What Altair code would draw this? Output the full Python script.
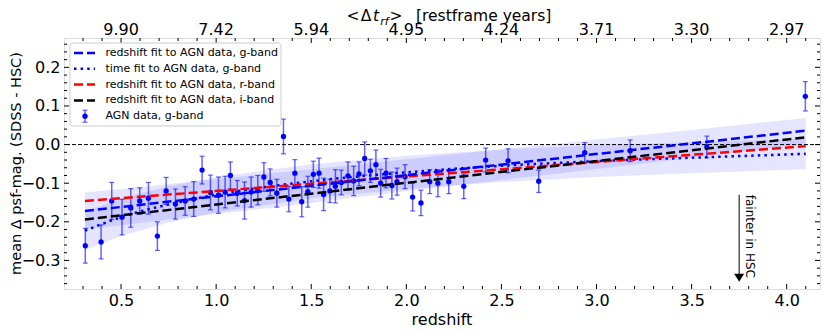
import altair as alt
import pandas as pd

# ---------------- data ----------------
redshift = [0.312, 0.395, 0.451, 0.505, 0.551, 0.598, 0.644, 0.691, 0.737, 0.786,
            0.837, 0.882, 0.926, 0.970, 1.012, 1.047, 1.075, 1.111, 1.149, 1.184,
            1.219, 1.251, 1.284, 1.319, 1.354, 1.382, 1.414, 1.450, 1.482, 1.511,
            1.541, 1.565, 1.598, 1.627, 1.658, 1.693, 1.723, 1.751, 1.781, 1.811,
            1.840, 1.865, 1.893, 1.924, 1.951, 1.993, 2.033, 2.077, 2.123, 2.166,
            2.223, 2.302, 2.417, 2.535, 2.696, 2.938, 3.177, 3.580, 4.098]
mean_dmag = [-0.262, -0.252, -0.146, -0.188, -0.164, -0.146, -0.139, -0.237, -0.120, -0.154,
             -0.146, -0.141, -0.066, -0.124, -0.131, -0.123, -0.080, -0.126, -0.145, -0.123,
             -0.118, -0.084, -0.098, -0.126, 0.021, -0.141, -0.074, -0.148, -0.122, -0.077,
             -0.074, -0.129, -0.120, -0.108, -0.098, -0.081, -0.094, -0.076, -0.036, -0.068,
             -0.052, -0.100, -0.074, -0.106, -0.096, -0.083, -0.136, -0.151, -0.096, -0.100,
             -0.096, -0.108, -0.040, -0.042, -0.095, -0.021, -0.016, -0.006, 0.125]
dmag_err = [0.045, 0.044, 0.048, 0.046, 0.050, 0.034, 0.041, 0.037, 0.035, 0.039,
            0.037, 0.045, 0.036, 0.045, 0.047, 0.041, 0.035, 0.033, 0.048, 0.039,
            0.038, 0.037, 0.035, 0.036, 0.045, 0.033, 0.035, 0.039, 0.040, 0.034,
            0.039, 0.042, 0.030, 0.043, 0.032, 0.036, 0.038, 0.031, 0.043, 0.030,
            0.038, 0.036, 0.038, 0.035, 0.035, 0.031, 0.036, 0.033, 0.031, 0.035,
            0.031, 0.032, 0.031, 0.031, 0.029, 0.026, 0.028, 0.028, 0.038]

# straight redshift fits (end points)
fit_z = [0.31, 4.10]
fit_g = [-0.172, 0.036]
fit_r = [-0.146, -0.004]
fit_i = [-0.194, 0.019]

# time fit (g band) and uncertainty bands, read at these redshifts
curve_z = [0.31, 0.5, 0.75, 1.0, 1.5, 2.0, 2.5, 3.0, 3.5, 4.1]
time_g = [-0.223, -0.188, -0.155, -0.130, -0.095, -0.072, -0.055, -0.043, -0.034, -0.024]
bandA_hi = [-0.124, -0.115, -0.102, -0.089, -0.064, -0.038, -0.012, 0.013, 0.038, 0.069]
bandA_lo = [-0.220, -0.209, -0.194, -0.180, -0.151, -0.121, -0.092, -0.063, -0.034, 0.002]
bandB_hi = [-0.174, -0.139, -0.108, -0.084, -0.051, -0.029, -0.013, -0.002, 0.007, 0.015]
bandB_lo = [-0.273, -0.237, -0.202, -0.176, -0.139, -0.115, -0.097, -0.084, -0.074, -0.064]

# axes
x_major = [0.5, 1.0, 1.5, 2.0, 2.5, 3.0, 3.5, 4.0]
top_labels = ["9.90", "7.42", "5.94", "4.95", "4.24", "3.71", "3.30", "2.97"]
y_major = [-0.3, -0.2, -0.1, 0.0, 0.1, 0.2]
x_minor = [round(0.3 + 0.1 * k, 1) for k in range(39)]
x_minor = [v for v in x_minor if abs(v * 2 - round(v * 2)) > 1e-6]
y_minor = [round(-0.36 + 0.02 * k, 2) for k in range(32)]
y_minor = [v for v in y_minor if abs(round(v * 10) - v * 10) > 1e-6]

legend_labels = ["redshift fit to AGN data, g-band", "time fit to AGN data, g-band",
                 "redshift fit to AGN data, r-band", "redshift fit to AGN data, i-band",
                 "AGN data, g-band"]

# annotation
arrow_z = [3.75]
arrow_top = [-0.130]
arrow_end = [-0.337]
arrow_head = [-0.345]
note_z = [3.807]
note_text = ["fainter in HSC"]

# ---------------- chart ----------------
W, H = 756, 251
BLUE, RED, BLACK = "#0000ff", "#ff0000", "#000000"
FONT = "DejaVu Sans"

xs = alt.Scale(domain=[0.2, 4.175], nice=False, zero=False)
ys = alt.Scale(domain=[-0.374, 0.276], nice=False, zero=False)
xaxis = alt.Axis(values=x_major, format=".1f", ticks=False, domain=False, grid=False,
                 labelFontSize=16, labelPadding=3, labelColor="black", title=None,
                 labelFont=FONT)
yaxis = alt.Axis(values=y_major, format=".1f", ticks=False, domain=False, grid=False,
                 labelFontSize=16, labelPadding=4, labelColor="black", title=None,
                 labelFont=FONT)


def X(f):
    return alt.X(f, type="quantitative", scale=xs, axis=xaxis)


def Y(f):
    return alt.Y(f, type="quantitative", scale=ys, axis=yaxis)


pts = pd.DataFrame({"z": redshift, "m": mean_dmag, "e": dmag_err})
pts["lo"] = pts["m"] - pts["e"]
pts["hi"] = pts["m"] + pts["e"]

band = pd.DataFrame({"z": curve_z, "ahi": bandA_hi, "alo": bandA_lo,
                     "bhi": bandB_hi, "blo": bandB_lo, "t": time_g})
fits = pd.DataFrame({"z": fit_z, "g": fit_g, "r": fit_r, "i": fit_i})

layers = []
layers.append(alt.Chart(band).mark_area(color=BLUE, opacity=0.1).encode(
    x=X("z"), y=Y("ahi"), y2="alo"))
layers.append(alt.Chart(band).mark_area(color=BLUE, opacity=0.1).encode(
    x=X("z"), y=Y("bhi"), y2="blo"))
layers.append(alt.Chart(pd.DataFrame({"y": [0.0]})).mark_rule(
    color="black", strokeWidth=1, strokeDash=[4, 2]).encode(y=Y("y")))

# error bars + points
layers.append(alt.Chart(pts).mark_rule(color=BLUE, opacity=0.6, strokeWidth=1.5).encode(
    x=X("z"), y=Y("lo"), y2="hi"))
for f in ["lo", "hi"]:
    layers.append(alt.Chart(pts).mark_tick(color=BLUE, opacity=0.6, orient="horizontal",
                                           size=5, thickness=1.2).encode(x=X("z"), y=Y(f)))
layers.append(alt.Chart(pts).mark_circle(color=BLUE, opacity=1, size=28).encode(
    x=X("z"), y=Y("m")))

# fits
layers.append(alt.Chart(band).mark_line(color=BLUE, strokeWidth=2.5, strokeDash=[2.5, 4.1],
                                        interpolate="monotone").encode(x=X("z"), y=Y("t")))
for col, c in [("r", RED), ("i", BLACK), ("g", BLUE)]:
    layers.append(alt.Chart(fits).mark_line(color=c, strokeWidth=2.5, strokeDash=[9, 4]).encode(
        x=X("z"), y=Y(col)))


# inward ticks
def xticks(vals, L):
    df = pd.DataFrame({"v": vals})
    bot = alt.Chart(df).mark_rule(color="black", strokeWidth=1).encode(
        x=X("v"), y=alt.value(H), y2=alt.value(H - L))
    top = alt.Chart(df).mark_rule(color="black", strokeWidth=1).encode(
        x=X("v"), y=alt.value(0), y2=alt.value(L))
    return [bot, top]


def yticks(vals, L):
    df = pd.DataFrame({"v": vals})
    left = alt.Chart(df).mark_rule(color="black", strokeWidth=1).encode(
        y=Y("v"), x=alt.value(0), x2=alt.value(L))
    right = alt.Chart(df).mark_rule(color="black", strokeWidth=1).encode(
        y=Y("v"), x=alt.value(W), x2=alt.value(W - L))
    return [left, right]


layers += xticks(x_major, 5) + xticks(x_minor, 3) + yticks(y_major, 5) + yticks(y_minor, 3)

# top axis labels
top_df = pd.DataFrame({"z": x_major, "lab": top_labels})
layers.append(alt.Chart(top_df).mark_text(fontSize=16, font=FONT, baseline="alphabetic",
                                          align="center", color="black").encode(
    x=X("z"), y=alt.value(-3.5), text="lab"))

one = pd.DataFrame({"a": [0]})


def txt(s, x, y, size=16, style="normal", align="left", angle=0, baseline="alphabetic"):
    return alt.Chart(one).mark_text(text=s, fontSize=size, font=FONT, fontStyle=style,
                                    align=align, baseline=baseline, angle=angle,
                                    color="black").encode(x=alt.value(x), y=alt.value(y))


# top title  < Δt_rf > [restframe years]
TB = -17
TS = 15.5
layers += [txt("<", 289, TB, size=TS, align="center"), txt("Δ", 302, TB, size=TS, align="center"),
           txt("t", 312, TB, size=TS, style="italic", align="center"),
           txt("rf", 320.5, TB + 4, size=11, style="italic", align="center"),
           txt(">", 332, TB, size=TS, align="center"),
           txt("[restframe years]", 352, TB, size=TS)]
# axis titles
layers.append(txt("redshift", W / 2, H + 36, align="center"))
layers.append(txt("mean Δ psf-mag. (SDSS - HSC)", -47.5, H / 2, size=14.5, align="center",
                  angle=270, baseline="middle"))

# legend
layers.append(alt.Chart(one).mark_rect(fill="white", fillOpacity=0.8, stroke="#cccccc",
                                       strokeWidth=1, cornerRadius=3).encode(
    x=alt.value(6), x2=alt.value(217), y=alt.value(5), y2=alt.value(88)))
styles = [(BLUE, [9, 4]), (BLUE, [2.5, 4.1]), (RED, [9, 4]), (BLACK, [9, 4])]
for k, lab in enumerate(legend_labels):
    ry = 15 + 15.8 * k
    if k < 4:
        c, d = styles[k]
        layers.append(alt.Chart(one).mark_rule(color=c, strokeWidth=2.5, strokeDash=d).encode(
            x=alt.value(10), x2=alt.value(31), y=alt.value(ry)))
    else:
        layers.append(alt.Chart(one).mark_rule(color=BLUE, opacity=0.6, strokeWidth=1.5).encode(
            x=alt.value(21), y=alt.value(ry - 6), y2=alt.value(ry + 6)))
        for dy in (-6, 6):
            layers.append(alt.Chart(one).mark_rule(color=BLUE, opacity=0.6, strokeWidth=1.2).encode(
                x=alt.value(18.5), x2=alt.value(23.5), y=alt.value(ry + dy)))
        layers.append(alt.Chart(one).mark_circle(color=BLUE, opacity=1, size=28).encode(
            x=alt.value(21), y=alt.value(ry)))
    layers.append(txt(lab, 41.5, ry, size=11, baseline="middle"))

# annotation arrow
ann = pd.DataFrame({"z": arrow_z, "top": arrow_top, "end": arrow_end, "head": arrow_head,
                    "nz": note_z, "note": note_text})
layers.append(alt.Chart(ann).mark_rule(color="black", strokeWidth=1).encode(
    x=X("z"), y=Y("top"), y2="end"))
layers.append(alt.Chart(ann).mark_point(shape="M-1,-0.8L1,-0.8L0,0.8Z", filled=True,
                                        color="black", opacity=1, size=100).encode(
    x=X("z"), y=Y("head")))
layers.append(alt.Chart(ann).mark_text(fontSize=12, font=FONT, angle=90, align="left",
                                       baseline="middle", color="black").encode(
    x=X("nz"), y=Y("top"), text="note"))

chart = alt.layer(*layers).properties(
    width=W, height=H,
    autosize=alt.AutoSizeParams(type="none"),
    padding={"left": 56, "top": 30, "right": 2, "bottom": 40},
).configure_view(stroke="black", strokeWidth=1).configure(font=FONT)

chart.save("out.html", embed_options={"renderer": "svg", "actions": False})
